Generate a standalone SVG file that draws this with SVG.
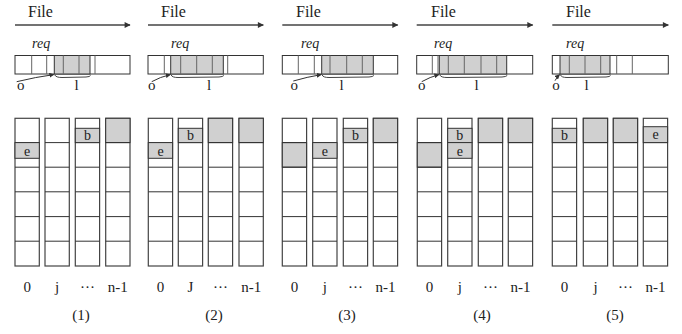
<svg xmlns="http://www.w3.org/2000/svg" width="682" height="334" viewBox="0 0 682 334">
<style>
text{font-family:"Liberation Serif","Times New Roman",serif;fill:#222}
.file{font-size:16px}
.req{font-size:14px;font-style:italic}
.lab{font-size:15px;text-anchor:middle}
.cl{font-size:14px;text-anchor:middle}
.bar{fill:#fff;stroke:#333;stroke-width:1}
.sh{fill:#d0d0d0;stroke:#333;stroke-width:1}
.dv{stroke:#666;stroke-width:1}
.col{fill:#fff;stroke:#444;stroke-width:1.2}
.rl{stroke:#333;stroke-width:1}
.cell{fill:#d0d0d0;stroke:#333;stroke-width:1}
.fa{stroke:#444;stroke-width:1.3;fill:none}
.cu{stroke:#333;stroke-width:1;fill:none}
.br{stroke:#444;stroke-width:1;fill:none}
</style>
<defs>
<marker id="ah" viewBox="0 0 10 10" refX="9" refY="5" markerWidth="8" markerHeight="6" markerUnits="userSpaceOnUse" orient="auto">
<path d="M0,0 L10,5 L0,10 z" fill="#333"/>
</marker>
<marker id="sa" viewBox="0 0 10 10" refX="9" refY="5" markerWidth="5" markerHeight="5" markerUnits="userSpaceOnUse" orient="auto">
<path d="M0,0 L10,5 L0,10 z" fill="#333"/>
</marker>
<g id="rows">
<line x1="0" y1="142.6" x2="24.3" y2="142.6"/>
<line x1="0" y1="167.2" x2="24.3" y2="167.2"/>
<line x1="0" y1="191.8" x2="24.3" y2="191.8"/>
<line x1="0" y1="216.6" x2="24.3" y2="216.6"/>
<line x1="0" y1="241.2" x2="24.3" y2="241.2"/>
</g>
</defs>

<!-- Panel 1 -->
<g id="panel1">
<text class="file" x="28" y="17">File</text>
<line class="fa" x1="15" y1="25" x2="130" y2="25" marker-end="url(#ah)"/>
<text class="req" x="32" y="48">req</text>
<rect class="bar" x="15" y="55.5" width="115" height="18.5"/>
<rect class="sh" x="54.3" y="55.5" width="35.7" height="18.5"/>
<g class="dv"><line x1="31.7" y1="55.5" x2="31.7" y2="74"/><line x1="46.7" y1="55.5" x2="46.7" y2="74"/><line x1="63.3" y1="55.5" x2="63.3" y2="74"/><line x1="79" y1="55.5" x2="79" y2="74"/><line x1="95" y1="55.5" x2="95" y2="74"/></g>
<text class="lab" x="20.7" y="90">o</text>
<text class="lab" x="76.7" y="90">l</text>
<g id="grid1">
<rect class="col" x="15" y="118.3" width="24.3" height="147.7"/>
<rect class="col" x="45" y="118.3" width="24.3" height="147.7"/>
<rect class="col" x="75.3" y="118.3" width="24.3" height="147.7"/>
<rect class="col" x="105.7" y="118.3" width="24.3" height="147.7"/>
<rect class="cell" x="105.7" y="118.3" width="24.3" height="24.3"/>
<use href="#rows" x="15" class="rl"/><use href="#rows" x="45" class="rl"/><use href="#rows" x="75.3" class="rl"/><use href="#rows" x="105.7" class="rl"/>
<rect class="cell" x="15" y="142.6" width="24.3" height="15.7"/><text class="cl" x="27.2" y="156">e</text>
<rect class="cell" x="75.3" y="128.3" width="24.3" height="14.3"/><text class="cl" x="87.5" y="140">b</text>
</g>
<text class="lab" x="27.2" y="292">0</text>
<text class="lab" x="57.2" y="292">j</text>
<text class="lab" x="87.5" y="292">···</text>
<text class="lab" x="117.8" y="292">n-1</text>
<text class="lab" x="81" y="320">(1)</text>
</g>

<!-- Panel 2 -->
<g id="panel2">
<text class="file" x="161" y="17">File</text>
<line class="fa" x1="148" y1="25" x2="263.3" y2="25" marker-end="url(#ah)"/>
<text class="req" x="171" y="48">req</text>
<rect class="bar" x="148" y="55.5" width="115.3" height="18.5"/>
<rect class="sh" x="170.7" y="55.5" width="52.6" height="18.5"/>
<g class="dv"><line x1="164.3" y1="55.5" x2="164.3" y2="74"/><line x1="180.7" y1="55.5" x2="180.7" y2="74"/><line x1="196.7" y1="55.5" x2="196.7" y2="74"/><line x1="212.3" y1="55.5" x2="212.3" y2="74"/><line x1="227.7" y1="55.5" x2="227.7" y2="74"/></g>
<text class="lab" x="151.7" y="90">o</text>
<text class="lab" x="209" y="90">l</text>
<g id="grid2">
<rect class="col" x="148.3" y="118.3" width="24.3" height="147.7"/>
<rect class="col" x="178.3" y="118.3" width="24.3" height="147.7"/>
<rect class="col" x="208.3" y="118.3" width="24.3" height="147.7"/>
<rect class="col" x="239" y="118.3" width="24.3" height="147.7"/>
<rect class="cell" x="208.3" y="118.3" width="24.3" height="24.3"/>
<rect class="cell" x="239" y="118.3" width="24.3" height="24.3"/>
<use href="#rows" x="148.3" class="rl"/><use href="#rows" x="178.3" class="rl"/><use href="#rows" x="208.3" class="rl"/><use href="#rows" x="239" class="rl"/>
<rect class="cell" x="148.3" y="142.6" width="24.3" height="15.7"/><text class="cl" x="160.5" y="156">e</text>
<rect class="cell" x="178.3" y="128.3" width="24.3" height="14.3"/><text class="cl" x="190.5" y="140">b</text>
</g>
<text class="lab" x="160.5" y="292">0</text>
<text class="lab" x="190.5" y="292">J</text>
<text class="lab" x="220.5" y="292">···</text>
<text class="lab" x="251.2" y="292">n-1</text>
<text class="lab" x="214" y="320">(2)</text>
</g>

<!-- Panel 3 -->
<g id="panel3">
<text class="file" x="296" y="17">File</text>
<line class="fa" x1="282.3" y1="25" x2="397.7" y2="25" marker-end="url(#ah)"/>
<text class="req" x="301" y="48">req</text>
<rect class="bar" x="282.3" y="55.5" width="115.4" height="18.5"/>
<rect class="sh" x="321.7" y="55.5" width="51.6" height="18.5"/>
<g class="dv"><line x1="298.3" y1="55.5" x2="298.3" y2="74"/><line x1="314.3" y1="55.5" x2="314.3" y2="74"/><line x1="330" y1="55.5" x2="330" y2="74"/><line x1="346.7" y1="55.5" x2="346.7" y2="74"/><line x1="362.3" y1="55.5" x2="362.3" y2="74"/></g>
<text class="lab" x="294.3" y="90">o</text>
<text class="lab" x="341.7" y="90">l</text>
<g id="grid3">
<rect class="col" x="282.3" y="118.3" width="24.3" height="147.7"/>
<rect class="col" x="312.7" y="118.3" width="24.3" height="147.7"/>
<rect class="col" x="343.3" y="118.3" width="24.3" height="147.7"/>
<rect class="col" x="373.3" y="118.3" width="24.3" height="147.7"/>
<rect class="cell" x="282.3" y="142.6" width="24.3" height="24.6"/>
<rect class="cell" x="373.3" y="118.3" width="24.3" height="24.3"/>
<use href="#rows" x="282.3" class="rl"/><use href="#rows" x="312.7" class="rl"/><use href="#rows" x="343.3" class="rl"/><use href="#rows" x="373.3" class="rl"/>
<rect class="cell" x="312.7" y="142.6" width="24.3" height="15.7"/><text class="cl" x="324.8" y="156">e</text>
<rect class="cell" x="343.3" y="128.3" width="24.3" height="14.3"/><text class="cl" x="355.5" y="140">b</text>
</g>
<text class="lab" x="294.5" y="292">0</text>
<text class="lab" x="324.8" y="292">j</text>
<text class="lab" x="355.5" y="292">···</text>
<text class="lab" x="385.5" y="292">n-1</text>
<text class="lab" x="347" y="320">(3)</text>
</g>

<!-- Panel 4 -->
<g id="panel4">
<text class="file" x="431" y="17">File</text>
<line class="fa" x1="416.7" y1="25" x2="532.7" y2="25" marker-end="url(#ah)"/>
<text class="req" x="434" y="48">req</text>
<rect class="bar" x="416.7" y="55.5" width="116" height="18.5"/>
<rect class="sh" x="439.3" y="55.5" width="67.4" height="18.5"/>
<g class="dv"><line x1="432.3" y1="55.5" x2="432.3" y2="74"/><line x1="438" y1="55.5" x2="438" y2="74"/><line x1="448.3" y1="55.5" x2="448.3" y2="74"/><line x1="464.3" y1="55.5" x2="464.3" y2="74"/><line x1="481" y1="55.5" x2="481" y2="74"/><line x1="496.7" y1="55.5" x2="496.7" y2="74"/></g>
<text class="lab" x="421.7" y="90">o</text>
<text class="lab" x="476.7" y="90">l</text>
<g id="grid4">
<rect class="col" x="417.3" y="118.3" width="24.3" height="147.7"/>
<rect class="col" x="447.7" y="118.3" width="24.3" height="147.7"/>
<rect class="col" x="478.3" y="118.3" width="24.3" height="147.7"/>
<rect class="col" x="508.3" y="118.3" width="24.3" height="147.7"/>
<rect class="cell" x="417.3" y="142.6" width="24.3" height="24.6"/>
<rect class="cell" x="478.3" y="118.3" width="24.3" height="24.3"/>
<rect class="cell" x="508.3" y="118.3" width="24.3" height="24.3"/>
<use href="#rows" x="417.3" class="rl"/><use href="#rows" x="447.7" class="rl"/><use href="#rows" x="478.3" class="rl"/><use href="#rows" x="508.3" class="rl"/>
<rect class="cell" x="447.7" y="128.3" width="24.3" height="14.3"/><text class="cl" x="459.8" y="140">b</text>
<rect class="cell" x="447.7" y="142.6" width="24.3" height="15.7"/><text class="cl" x="459.8" y="156">e</text>
</g>
<text class="lab" x="429.5" y="292">0</text>
<text class="lab" x="459.8" y="292">j</text>
<text class="lab" x="490.5" y="292">···</text>
<text class="lab" x="520.5" y="292">n-1</text>
<text class="lab" x="482" y="320">(4)</text>
</g>

<!-- Panel 5 -->
<g id="panel5">
<text class="file" x="566" y="17">File</text>
<line class="fa" x1="552.3" y1="25" x2="668.3" y2="25" marker-end="url(#ah)"/>
<text class="req" x="566" y="48">req</text>
<rect class="bar" x="552.3" y="55.5" width="116" height="18.5"/>
<rect class="sh" x="560" y="55.5" width="50" height="18.5"/>
<g class="dv"><line x1="569.3" y1="55.5" x2="569.3" y2="74"/><line x1="585" y1="55.5" x2="585" y2="74"/><line x1="600.7" y1="55.5" x2="600.7" y2="74"/><line x1="616.7" y1="55.5" x2="616.7" y2="74"/><line x1="632.3" y1="55.5" x2="632.3" y2="74"/></g>
<text class="lab" x="556" y="90">o</text>
<text class="lab" x="586.7" y="90">l</text>
<g id="grid5">
<rect class="col" x="552.3" y="118.3" width="24.3" height="147.7"/>
<rect class="col" x="583.3" y="118.3" width="24.3" height="147.7"/>
<rect class="col" x="613.3" y="118.3" width="24.3" height="147.7"/>
<rect class="col" x="643.3" y="118.3" width="24.3" height="147.7"/>
<rect class="cell" x="583.3" y="118.3" width="24.3" height="24.3"/>
<rect class="cell" x="613.3" y="118.3" width="24.3" height="24.3"/>
<use href="#rows" x="552.3" class="rl"/><use href="#rows" x="583.3" class="rl"/><use href="#rows" x="613.3" class="rl"/><use href="#rows" x="643.3" class="rl"/>
<rect class="cell" x="552.3" y="128.3" width="24.3" height="14.3"/><text class="cl" x="564.5" y="140">b</text>
<rect class="cell" x="643.3" y="126.7" width="24.3" height="15.9"/><text class="cl" x="655.5" y="139">e</text>
</g>
<text class="lab" x="564.5" y="292">0</text>
<text class="lab" x="595.5" y="292">j</text>
<text class="lab" x="625.5" y="292">···</text>
<text class="lab" x="655.5" y="292">n-1</text>
<text class="lab" x="615" y="320">(5)</text>
</g>

<!-- Connectors: offset arrows and length brackets -->
<g id="connectors">
<path class="cu" d="M16.7,81.7 Q36,77 53.8,74.6" marker-end="url(#sa)"/>
<path class="br" d="M54.8,75 Q56,77.5 62,77.5 L86,77 Q90,76.8 90.5,75.5"/>
<path class="cu" d="M151.7,81.7 Q160,77 170.3,74.6" marker-end="url(#sa)"/>
<path class="br" d="M171.2,75 Q172,77.5 178,77.5 L219,77 Q223,76.8 223.8,75.5"/>
<path class="cu" d="M293.3,81 Q307,77 321.3,74.6" marker-end="url(#sa)"/>
<path class="br" d="M322.2,75 Q323,77.5 329,77.5 L369,77 Q373,76.8 373.8,75.5"/>
<path class="cu" d="M421.7,81.7 Q430,77 438.9,74.6" marker-end="url(#sa)"/>
<path class="br" d="M439.8,75 Q441,77.5 447,77.5 L502,77 Q506,76.8 507.2,75.5"/>
<path class="cu" d="M555,80.7 Q557,77 559.6,74.6" marker-end="url(#sa)"/>
<path class="br" d="M560.5,75 Q561.5,77.5 567,77.5 L606,77 Q610,76.8 610.5,75.5"/>
</g>
</svg>
